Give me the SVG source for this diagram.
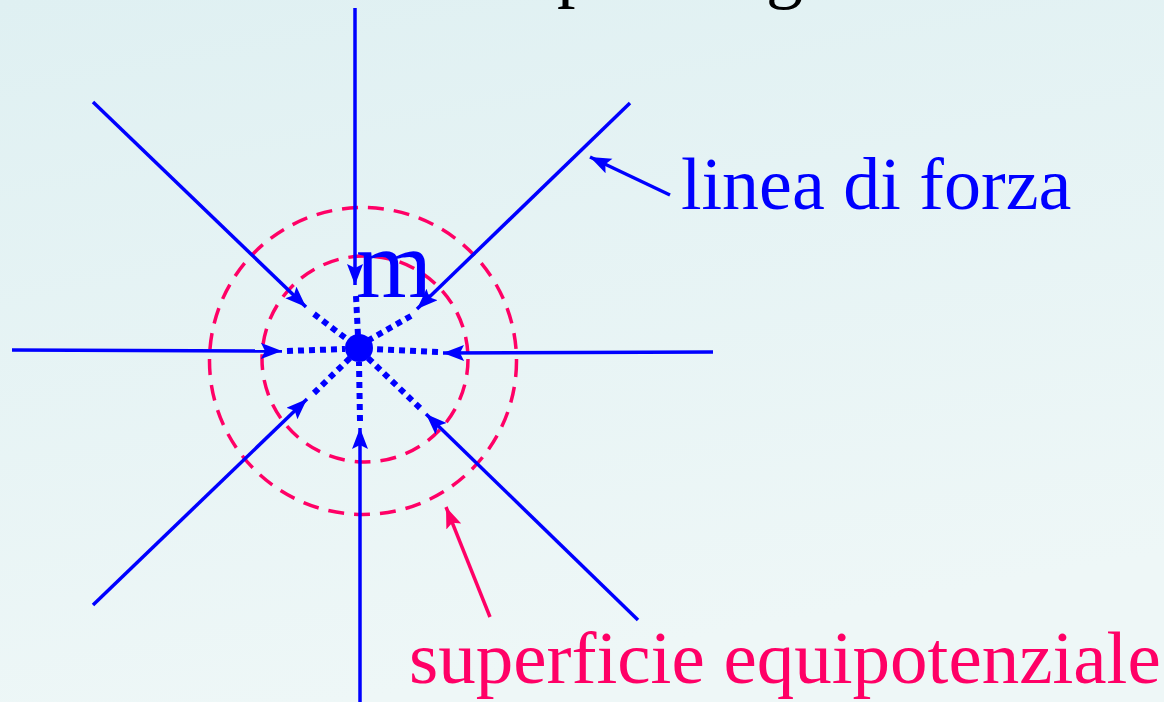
<svg xmlns="http://www.w3.org/2000/svg" width="1164" height="702" viewBox="0 0 1164 702">
  <defs>
    <linearGradient id="bg" x1="0" y1="0" x2="0.3" y2="1">
      <stop offset="0" stop-color="#dff0f2"/>
      <stop offset="1" stop-color="#eef7f7"/>
    </linearGradient>
    <marker id="ab" markerUnits="userSpaceOnUse" markerWidth="24" markerHeight="18" refX="21" refY="8" orient="auto">
      <path d="M0,0 L21,8 L0,16 L4,8 z" fill="#0000ff"/>
    </marker>
    <marker id="ap" markerUnits="userSpaceOnUse" markerWidth="24" markerHeight="18" refX="21" refY="8" orient="auto">
      <path d="M0,0 L21,8 L0,16 L4,8 z" fill="#ff0066"/>
    </marker>
  </defs>
  <style>
    .fl { stroke: #0000ff; stroke-width: 3.5; fill: none; }
    .dot { stroke: #0000ff; stroke-width: 6; stroke-dasharray: 6 5; fill: none; }
    .eq { stroke: #ff0066; stroke-width: 3.5; stroke-dasharray: 16 10; fill: none; }
    .pk { stroke: #ff0066; stroke-width: 3.5; fill: none; }
    .t { font-family: "Liberation Serif", "Times New Roman", serif; }
  </style>
  <rect x="0" y="0" width="1164" height="702" fill="url(#bg)"/>

  <g id="title-fragment" class="t" font-size="74" fill="#000000">
    <text x="557" y="-7">p</text>
    <text x="766" y="-6">g</text>
  </g>

  <g id="equipotential-surfaces">
    <circle class="eq" cx="363" cy="361" r="153.5"/>
    <circle class="eq" cx="365" cy="359" r="103"/>
  </g>

  <g id="connectors">
    <line class="fl" x1="355" y1="8" x2="355" y2="285" marker-end="url(#ab)"/>
    <line class="fl" x1="93" y1="102" x2="306" y2="307" marker-end="url(#ab)"/>
    <line class="fl" x1="630" y1="103" x2="417" y2="309" marker-end="url(#ab)"/>
    <line class="fl" x1="12" y1="350" x2="282" y2="351" marker-end="url(#ab)"/>
    <line class="fl" x1="713" y1="352" x2="443" y2="353" marker-end="url(#ab)"/>
    <line class="fl" x1="93" y1="605" x2="307" y2="399" marker-end="url(#ab)"/>
    <line class="fl" x1="360" y1="702" x2="360" y2="428" marker-end="url(#ab)"/>
    <line class="fl" x1="638" y1="620" x2="426" y2="414" marker-end="url(#ab)"/>

    <line class="dot" x1="356" y1="296" x2="358" y2="336"/>
    <line class="dot" x1="314" y1="314" x2="348" y2="340"/>
    <line class="dot" x1="411" y1="316" x2="369" y2="340"/>
    <line class="dot" x1="287" y1="351" x2="345" y2="349"/>
    <line class="dot" x1="438" y1="352" x2="373" y2="349"/>
    <line class="dot" x1="314" y1="393" x2="350" y2="358"/>
    <line class="dot" x1="360" y1="421" x2="359" y2="362"/>
    <line class="dot" x1="420" y1="408" x2="368" y2="358"/>

    <line class="fl" x1="670" y1="195" x2="590" y2="157" marker-end="url(#ab)"/>
    <line class="pk" x1="490" y1="617" x2="446" y2="507" marker-end="url(#ap)"/>
  </g>

  <g id="mass">
    <circle cx="359" cy="348" r="14" fill="#0000ff"/>
    <text class="t" x="356" y="297" font-size="98" fill="#0000ff">m</text>
  </g>

  <g id="label-linea">
    <text class="t" x="681" y="209" font-size="74" fill="#0000ff">linea di forza</text>
  </g>

  <g id="label-superficie">
    <text class="t" x="409" y="683" font-size="75" fill="#ff0066">superficie equipotenziale</text>
  </g>
</svg>
